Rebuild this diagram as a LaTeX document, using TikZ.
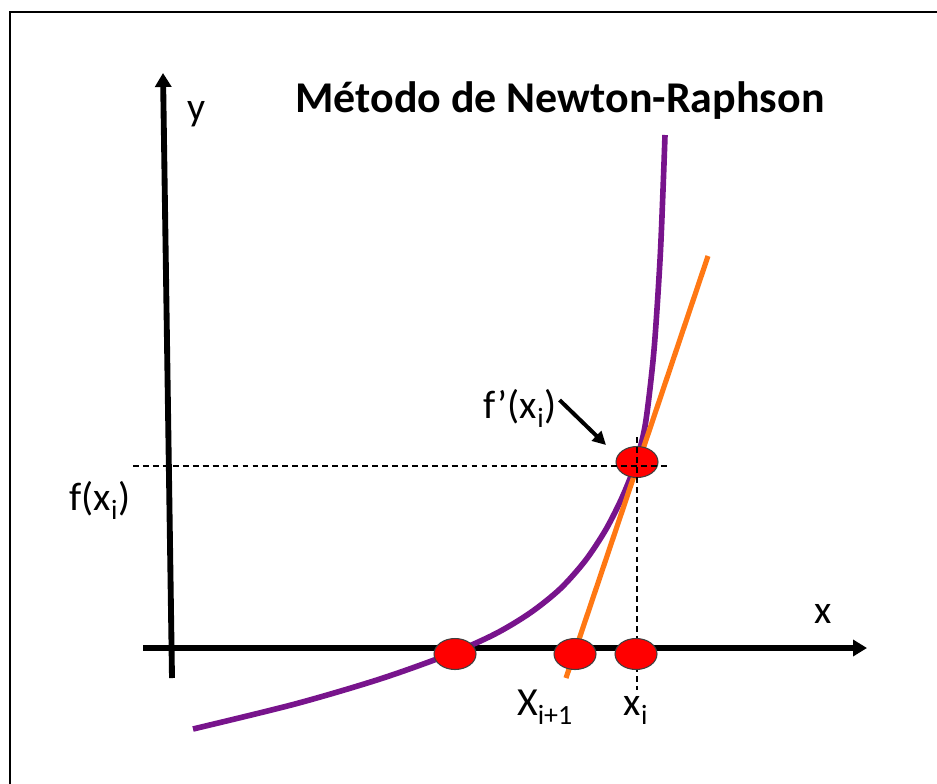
\documentclass[tikz,border=0pt]{standalone}
\usepackage{fontspec}
\setmainfont{Carlito}
\usetikzlibrary{arrows.meta,shapes.geometric}
\definecolor{violetc}{RGB}{120,20,140}
\definecolor{orangec}{RGB}{255,120,20}
\tikzset{
	axe/.style={line width=5pt,-{Triangle[length=0.42cm,width=0.48cm]}},
	courbe/.style={line width=4.8pt,violetc},
	tangente/.style={line width=4.4pt,orangec},
	pointille/.style={line width=1.1pt,dash pattern=on 5pt off 3.5pt},
	point/.style={ellipse,draw=black!75,line width=0.9pt,fill=red,minimum width=1.26cm,minimum height=0.93cm,inner sep=0pt},
	etiq/.style={font=\fontsize{34}{40}\selectfont,inner sep=0pt,anchor=base}
}
\begin{document}
\begin{tikzpicture}[x=0.03cm,y=-0.03cm]
	\clip (0,0) rectangle (937,783);
	\draw[line width=1.8pt] (10,12) rectangle (960,800);
	% axes
	\def\yaxe{648};
	\coordinate (O1) at (143,\yaxe);
	\coordinate (X) at (867,\yaxe);
	\coordinate (O2) at (172,678);
	\coordinate (Y) at (163,73);
	\draw[axe] (O1) -- (X);
	\draw[axe] (O2) -- (Y);
	\node[etiq] (lx) at (823,623) {x};
	\node[etiq] (ly) at (197,120) {y};
	\node[font=\bfseries\fontsize{37.5}{44}\selectfont,inner sep=0pt,anchor=base] (titre) at (560,112) {Método de Newton-Raphson};
	% courbe et tangente
	\draw[courbe] plot[smooth] coordinates {(193,729) (295,704) (380,679) (450,654) (495,634) (530,613) (560,589) (585,561) (605,531) (620,502) (631,476) (639,452) (646,420) (654,350) (660,260) (663,190) (665,135)};
	\coordinate (Tb) at (566,678);
	\coordinate (Th) at (708,256);
	\draw[tangente] (Tb) -- (Th);
	\node[point] (pT) at (637,462) {};
	\draw[pointille] (133,466) -- (667,466);
	\draw[pointille] (637,437) -- (637,690);
	% points sur l'axe
	\foreach \x/\nom in {455/r,575/a,636/b}
		\node[point] (p\nom) at (\x,654) {};
	% etiquettes
	\node[etiq] (lfx) at (100,510) {f(x\textsubscript{i})};
	\node[etiq] (lfp) at (520,418) {f’(x\textsubscript{i})};
	\coordinate (fpointe) at (606,445);
	\draw[line width=3.4pt,-{Triangle[length=0.4cm,width=0.4cm]}] (lfp.east) ++(3,-8) -- (fpointe);
	\node[etiq] (lxa) at (545,715) {X\textsubscript{i+1}};
	\node[etiq] (lxb) at (636,715) {x\textsubscript{i}};
\end{tikzpicture}
\end{document}
